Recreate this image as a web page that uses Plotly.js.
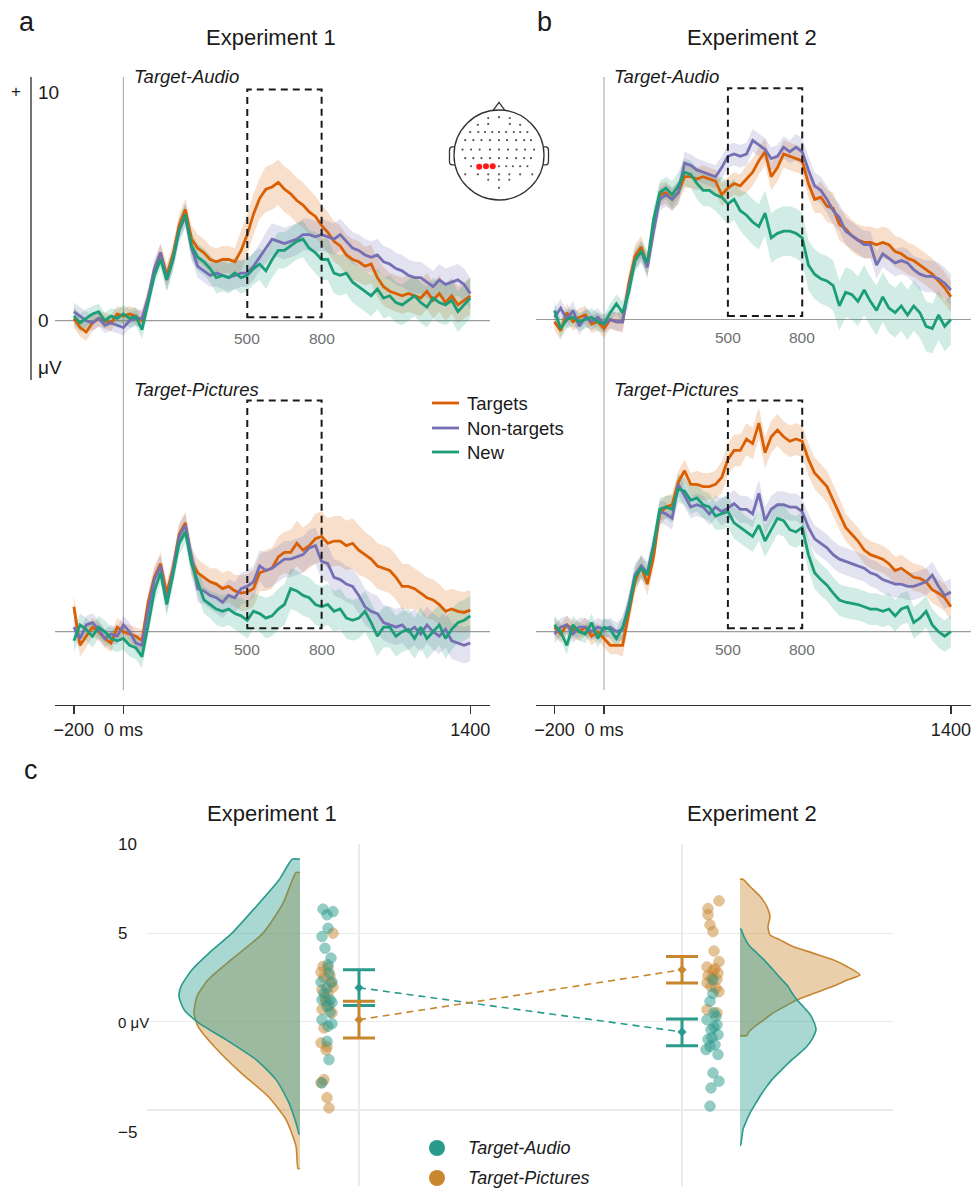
<!DOCTYPE html>
<html><head><meta charset="utf-8">
<script src="https://cdn.plot.ly/plotly-3.0.1.min.js"></script>
<style>html,body{margin:0;padding:0;background:#fff;}#chart{width:975px;height:1189px;}</style>
</head><body><div id="chart"></div>
<script>
// ---------------- DATA ----------------
const TIME = [-200,-175,-150,-125,-100,-75,-50,-25,0,25,50,75,100,125,150,175,200,225,250,275,300,325,350,375,400,425,450,475,500,525,550,575,600,625,650,675,700,725,750,775,800,825,850,875,900,925,950,975,1000,1025,1050,1075,1100,1125,1150,1175,1200,1225,1250,1275,1300,1325,1350,1375,1400];
const CONDITIONS = ['Targets','Non-targets','New'];

// Experiment 1, Target-Audio (µV)
const E1A_TARGETS = [0.1,-0.3,-0.5,-0.1,0.1,0.0,-0.1,0.3,0.2,0.3, 0.2,0.0,1.0,2.2,3.0,2.0,2.9,4.2,4.9,3.6, 3.2,3.0,2.7,2.6,2.7,2.7,2.6,3.1,3.8,4.7, 5.4,5.8,5.9,6.1,5.8,5.6,5.3,5.1,4.8,4.6, 4.2,3.9,3.5,3.3,2.9,2.7,2.6,2.4,2.5,1.9, 1.5,1.3,1.2,1.1,1.2,1.1,1.0,1.3,0.9,1.2, 0.8,1.1,0.7,0.9,1.1];
const E1A_NONTARGETS = [0.4,0.2,0.0,-0.1,0.1,-0.2,-0.1,-0.2,-0.3,0.0, 0.1,0.1,1.0,2.3,3.0,1.8,2.7,4.0,4.6,3.2, 2.4,2.2,2.0,2.1,2.0,1.9,2.0,2.1,2.1,2.4, 2.8,3.2,3.6,3.5,3.4,3.5,3.6,3.8,3.8,3.7, 3.8,3.7,3.6,3.8,3.5,3.2,3.1,2.9,2.8,2.9, 2.6,2.5,2.3,2.2,2.0,1.9,1.9,1.7,1.5,1.8, 1.6,1.7,1.8,1.6,1.2];
const E1A_NEW = [0.2,-0.1,0.1,0.3,0.4,0.0,0.2,0.1,0.3,0.1, 0.2,-0.4,0.8,2.0,2.7,1.8,2.7,4.0,4.7,3.3, 2.8,2.6,2.3,1.9,2.0,1.9,2.1,1.9,2.0,2.3, 2.5,2.2,2.7,3.1,3.1,3.3,3.5,3.6,3.2,3.0, 2.7,2.7,2.1,2.0,2.1,1.7,1.5,1.3,1.1,1.4, 1.0,1.1,0.8,0.7,0.9,1.1,0.8,0.6,1.0,0.8, 0.7,0.9,0.4,0.7,1.0];
// Experiment 1, Target-Pictures
const E1P_TARGETS = [1.1,-0.6,-0.2,0.2,0.0,-0.3,-0.5,0.2,0.0,-0.1, -0.2,-0.4,1.3,2.4,3.0,1.7,2.8,4.3,4.8,3.1, 2.6,2.4,2.2,2.1,1.9,2.0,1.8,1.7,1.75,1.9, 2.6,2.7,2.8,3.3,3.5,3.5,3.9,3.6,3.8,4.1, 4.2,3.9,4.0,4.0,3.8,3.9,3.6,3.4,3.2,2.9, 2.8,2.7,2.4,2.0,2.0,1.9,1.7,1.5,1.4,1.2, 0.9,1.0,0.9,0.85,0.95];
const E1P_NONTARGETS = [0.2,-0.3,0.3,0.4,0.1,-0.3,-0.1,-0.2,0.3,0.0, -0.5,-0.6,1.0,2.3,2.9,1.3,2.7,4.2,4.7,3.3, 1.9,1.8,1.6,1.5,1.3,1.6,1.5,1.9,2.0,2.2, 2.9,2.7,2.8,3.0,3.2,3.2,3.3,3.4,3.7,3.8, 3.1,3.0,2.4,2.3,2.1,2.0,1.6,1.1,0.9,0.8, 0.4,0.3,0.2,0.3,0.0,0.2,-0.1,0.3,0.0,-0.2, 0.1,-0.4,-0.5,-0.6,-0.5];
const E1P_NEW = [-0.4,0.3,0.1,-0.2,0.2,0.0,-0.3,-0.4,-0.3,-0.6, -0.7,-1.1,0.3,1.8,2.6,1.2,2.5,3.9,4.4,3.0, 2.2,1.4,1.2,1.0,0.9,1.0,0.8,0.7,0.5,0.9, 0.8,0.6,0.7,1.0,1.2,1.9,1.8,1.6,1.5,1.2, 1.1,1.2,0.9,1.0,0.6,0.5,0.6,0.9,0.4,-0.2, 0.2,0.2,-0.2,0.0,0.1,-0.3,0.2,-0.3,0.0,0.3, -0.3,0.1,0.4,0.5,0.7];
// Experiment 2, Target-Audio
const E2A_TARGETS = [-0.1,-0.5,0.3,-0.1,0.1,0.2,-0.2,-0.1,-0.4,0.0, -0.1,-0.1,1.6,2.8,3.2,2.4,4.0,5.5,5.6,5.3, 5.6,6.3,6.3,6.2,6.3,6.2,6.1,5.5,5.8,6.0, 5.9,6.2,6.5,7.0,7.4,6.3,6.7,7.3,7.2,7.1, 7.0,6.0,5.3,5.4,5.0,4.9,4.2,4.0,3.7,3.5, 3.4,3.4,3.3,3.4,3.3,3.0,2.9,2.7,2.6,2.4, 2.2,2.0,1.7,1.4,1.0];
const E2A_NONTARGETS = [0.1,0.5,0.0,0.4,-0.3,0.1,-0.1,0.1,-0.2,0.0, -0.1,-0.1,1.4,2.6,3.0,2.3,3.9,5.3,5.5,5.3, 5.6,6.9,6.8,6.6,6.5,6.4,6.3,6.7,7.2,7.3, 7.2,7.3,7.9,7.7,7.5,7.1,7.2,7.6,7.4,7.6, 7.4,6.6,5.9,5.7,5.3,4.8,4.5,3.9,3.7,3.5, 3.3,3.3,2.4,2.9,2.7,2.5,2.6,2.5,2.2,2.0, 1.9,1.9,1.8,1.6,1.3];
const E2A_NEW = [0.4,-0.4,0.0,0.1,-0.1,0.0,0.1,-0.1,-0.2,0.3, 0.7,0.3,1.2,2.6,3.0,2.5,4.4,5.6,5.8,5.5, 5.9,6.5,6.4,6.0,5.7,5.7,5.5,5.4,5.1,5.3, 4.8,4.6,4.3,4.1,4.7,3.6,3.8,3.9,3.9,3.8, 3.6,2.4,2.0,1.8,1.7,1.5,0.6,1.2,1.1,0.8, 1.3,0.8,0.4,1.0,0.5,0.3,0.6,0.2,0.6,0.3, -0.3,-0.4,0.2,-0.3,0.0];
// Experiment 2, Target-Pictures
const E2P_TARGETS = [0.2,-0.1,0.3,0.1,0.0,0.2,-0.2,0.0,-0.3,-0.6, -0.6,-0.6,0.8,2.2,2.9,2.1,3.3,5.2,5.5,5.6, 6.6,7.1,6.5,6.5,6.4,6.4,6.5,6.8,7.6,8.0, 8.0,8.5,8.3,9.2,7.9,8.6,8.9,8.6,8.4,8.5, 8.4,7.6,7.0,6.7,6.4,5.8,5.2,4.6,4.3,4.0, 3.6,3.4,3.3,3.2,3.0,2.7,2.8,2.6,2.4,2.35, 2.2,1.85,1.7,1.5,1.1];
const E2P_NONTARGETS = [-0.1,0.2,0.3,-0.1,0.2,0.2,0.0,0.2,0.1,0.2, 0.0,0.1,1.2,2.5,2.9,2.6,3.8,5.3,5.2,5.0, 6.5,6.0,5.5,5.6,5.5,5.2,5.5,5.3,5.45,5.65, 5.4,5.4,5.2,6.1,4.9,5.4,5.6,5.6,5.5,5.5, 5.3,4.6,4.1,3.9,3.7,3.4,3.2,3.1,3.0,2.9, 2.8,2.6,2.5,2.3,2.2,2.1,2.1,2.0,2.0,2.1, 2.2,2.5,2.0,1.6,1.75];
const E2P_NEW = [0.3,0.0,-0.6,0.3,0.0,-0.1,0.4,-0.3,0.2,0.1, -0.3,0.2,1.0,2.4,2.8,2.5,3.8,5.4,5.5,5.4, 6.3,6.2,5.8,5.9,5.6,5.5,5.1,5.2,5.3,4.8, 4.6,4.4,4.2,4.7,4.0,4.5,5.0,4.9,4.5,4.4, 4.6,3.4,2.6,2.3,2.05,1.7,1.4,1.3,1.25,1.2, 1.1,1.0,1.0,0.9,1.0,0.7,1.0,1.1,0.4,0.6, 0.9,0.3,0.0,-0.2,0.0];

// SEM half-widths per 100-ms bin (bins centred at -200,-100,...,1400)
const SEM_BINS = [-200,-100,0,100,200,300,400,500,600,700,800,900,1000,1100,1200,1300,1400];
const E1A_SEM_T = [0.4,0.35,0.35,0.4,0.5,0.6,0.6,0.9,1.0,1.0,0.9,0.9,0.85,0.8,0.8,0.8,0.8];
const E1A_SEM_N = [0.4,0.35,0.35,0.4,0.5,0.5,0.6,0.6,0.7,0.7,0.7,0.7,0.7,0.7,0.7,0.7,0.7];
const E1A_SEM_W = [0.4,0.35,0.4,0.4,0.5,0.6,0.7,0.7,0.8,0.8,0.9,0.9,0.9,0.9,0.9,0.9,0.9];
const E1P_SEM_T = [0.5,0.4,0.4,0.5,0.5,0.6,0.7,0.8,0.9,1.0,1.1,1.1,1.0,1.0,0.9,0.9,0.9];
const E1P_SEM_N = [0.4,0.4,0.4,0.5,0.5,0.6,0.7,0.7,0.8,0.8,0.8,0.8,0.8,0.8,0.8,0.8,0.8];
const E1P_SEM_W = [0.5,0.5,0.5,0.5,0.5,0.6,0.7,0.8,0.9,0.9,0.9,0.9,0.9,0.9,0.9,0.9,0.9];
const E2A_SEM_T = [0.4,0.4,0.4,0.5,0.5,0.5,0.5,0.5,0.6,0.6,0.6,0.7,0.7,0.7,0.7,0.7,0.7];
const E2A_SEM_N = [0.4,0.4,0.4,0.4,0.5,0.5,0.5,0.5,0.5,0.5,0.6,0.6,0.6,0.6,0.6,0.7,0.7];
const E2A_SEM_W = [0.4,0.4,0.4,0.5,0.5,0.6,0.7,0.9,1.0,1.1,1.1,1.1,1.1,1.1,1.1,1.1,1.1];
const E2P_SEM_T = [0.4,0.4,0.4,0.5,0.5,0.5,0.6,0.7,0.7,0.7,0.7,0.7,0.6,0.6,0.6,0.6,0.6];
const E2P_SEM_N = [0.4,0.4,0.4,0.5,0.5,0.5,0.5,0.6,0.6,0.6,0.6,0.6,0.6,0.6,0.6,0.6,0.6];
const E2P_SEM_W = [0.4,0.4,0.4,0.5,0.5,0.6,0.6,0.7,0.7,0.7,0.7,0.7,0.7,0.7,0.7,0.7,0.7];

const WINDOW_MS = [500, 800];
const X_TICKS = [-200, 0, 1400];
const X_TICK_TEXT = ['\u2212200', '0 ms', '1400'];

// Panel c: mean amplitude 500-800 ms per participant (µV)
const EXPERIMENTS = ['Experiment 1', 'Experiment 2'];
const MODALITIES = ['Target-Audio', 'Target-Pictures'];
const EXP_POS = [1, 2];
const E1_AUDIO_PTS = [6.37,6.23,6.05,5.29,4.82,4.16,3.60,3.22,2.75,2.24,2.24,1.90,1.62,1.24,1.24,1.09,0.87,0.53,0.11,-0.11,-0.26,-1.11,-2.15,-3.46];
const E1_AUDIO_JIT = [-4,6,0,1,-5,-2,4,1,2,5,-6,0,-3,3,-5,5,0,3,-5,5,1,0,2,-5];
const E1_PICT_PTS = [5.01,3.13,3.05,2.80,2.60,2.50,2.20,1.96,1.80,1.60,1.35,1.15,0.90,0.70,0.50,-0.36,-1.20,-1.40,-1.60,-3.28,-3.46,-4.30,-4.88];
const E1_PICT_JIT = [6,-4,1,-6,3,-3,4,6,-5,1,-2,-1,2,-5,5,-3,-6,0,-1,-3,-6,0,2];
const E2_AUDIO_PTS = [2.37,1.60,1.15,0.50,0.30,0.11,-0.17,-0.30,-0.45,-0.73,-0.90,-1.00,-1.30,-1.40,-1.58,-1.86,-2.90,-3.37,-3.75,-4.78];
const E2_AUDIO_JIT = [1,1,-2,2,4,-5,5,2,-1,6,0,-4,3,-2,-6,6,1,7,-1,-2];
const E2_PICT_PTS = [6.84,6.40,6.05,5.48,5.10,4.00,3.40,3.10,3.00,2.90,2.75,2.60,2.50,2.40,2.20,2.00,1.90,1.70,0.68,0.50];
const E2_PICT_JIT = [7,-4,-4,-2,1,2,7,-5,3,1,6,-4,0,5,-5,-1,4,7,-5,5];
const MEAN_AUDIO = [1.92, -0.58], CI_AUDIO_HI = [2.94, 0.15], CI_AUDIO_LO = [0.92, -1.36];
const MEAN_PICT = [0.11, 2.94], CI_PICT_HI = [1.15, 3.69], CI_PICT_LO = [-0.92, 2.19];

// Density curves (half-violins): levels (µV) and density (arbitrary units)
const E1_AUDIO_DENS_Y = [9.19,8.02,6.51,5.01,3.88,2.94,2.00,1.43,0.68,-0.08,-1.02,-2.15,-3.28,-4.60,-5.92,-6.35];
const E1_AUDIO_DENS = [7.7,21,44,68,91,108,119,121,116,101,74,44,24,11,3,1];
const E1_PICT_DENS_Y = [8.44,6.70,5.01,3.50,2.37,1.43,0.49,-0.26,-1.39,-2.90,-4.22,-5.54,-7.05,-8.31];
const E1_PICT_DENS = [4,17,37,69,92,103,106,102,86,59,32,14,4,2];
const E2_PICT_DENS_Y = [8.06,7.65,7.10,6.50,5.95,5.38,4.90,4.63,4.25,3.88,3.50,3.12,2.65,2.37,2.00,1.62,1.24,0.87,0.49,0.11,-0.26,-0.64,-0.79];
const E2_PICT_DENS = [3,10,20,27,30,28,30,40,53,73,93,107,120,108,93,75,57,45,33,24,15,8,7];
const E2_AUDIO_DENS_Y = [5.24,4.82,4.25,3.88,3.50,2.94,2.37,2.00,1.62,1.24,0.87,0.49,0.11,-0.45,-1.00,-1.39,-1.77,-2.15,-2.70,-3.28,-3.65,-4.22,-4.60,-5.17,-5.54,-6.10,-6.48,-7.00];
const E2_AUDIO_DENS = [1,4,10,17,24,33,42,48,52,57,63,69,73,76,72,67,60,52,42,32,27,20,16,10,7,3,2,0.5];

// Electrode montage (head units, radius 1)
const ELEC_U = [-0.24,0,0.24, -0.47,-0.24,0.24,0.47, -0.64,-0.46,-0.31,-0.15,0,0.16,0.33,0.47,0.63, -0.75,-0.57,-0.39,-0.2,0,0.18,0.38,0.56,0.71, -0.81,-0.62,-0.43,-0.2,0,0.2,0.39,0.58,0.78, -0.75,-0.57,-0.39,-0.2,0,0.18,0.38,0.56,0.71, -0.62,0,0.16,0.31,0.47,0.63, -0.75,-0.47,-0.24,0,0.23,0.47,0.74, -0.24,0,0.23, 0];
const ELEC_V = [0.82,0.84,0.82, 0.67,0.69,0.69,0.67, 0.51,0.51,0.51,0.51,0.51,0.51,0.51,0.51,0.51, 0.33,0.33,0.33,0.33,0.33,0.33,0.33,0.33,0.33, 0.12,0.12,0.12,0.12,0.12,0.12,0.12,0.12,0.12, -0.07,-0.07,-0.07,-0.07,-0.07,-0.07,-0.07,-0.07,-0.07, -0.25,-0.25,-0.25,-0.25,-0.25,-0.25, -0.43,-0.43,-0.43,-0.43,-0.43,-0.43,-0.43, -0.55,-0.55,-0.55, -0.73];
const ROI_U = [-0.44,-0.29,-0.14];
const ROI_V = [-0.26,-0.25,-0.25];

// ---------------- STYLE / LAYOUT ----------------
const W = 975, H = 1189;
const PX = v => v / W, PY = v => 1 - v / H;
const FONT = 'Liberation Sans, Arial, Helvetica, sans-serif';
const LINE_COL = ['#d95f02', '#7570b3', '#1b9e77'];
const BAND_COL = ['rgba(217,95,2,0.2)', 'rgba(117,112,179,0.2)', 'rgba(27,158,119,0.2)'];
const TEAL = '#299a8c', ORANGE = '#c8862f';
const TEAL_FILL = 'rgba(41,154,140,0.40)', ORANGE_FILL = 'rgba(200,134,47,0.40)';
const VSCALE = 1 / 323;      // density units -> x units
const JSCALE = 1 / 323;      // jitter px -> x units

const panels = [
  {xa:'x',  ya:'y',  series:[E1A_TARGETS,E1A_NONTARGETS,E1A_NEW], sem:[E1A_SEM_T,E1A_SEM_N,E1A_SEM_W]},
  {xa:'x2', ya:'y2', series:[E2A_TARGETS,E2A_NONTARGETS,E2A_NEW], sem:[E2A_SEM_T,E2A_SEM_N,E2A_SEM_W]},
  {xa:'x3', ya:'y3', series:[E1P_TARGETS,E1P_NONTARGETS,E1P_NEW], sem:[E1P_SEM_T,E1P_SEM_N,E1P_SEM_W]},
  {xa:'x4', ya:'y4', series:[E2P_TARGETS,E2P_NONTARGETS,E2P_NEW], sem:[E2P_SEM_T,E2P_SEM_N,E2P_SEM_W]}
];
const semAt = (sem, t) => sem[SEM_BINS.indexOf(SEM_BINS.reduce((a,b)=>Math.abs(b-t)<Math.abs(a-t)?b:a))];

const traces = [];
panels.forEach(p => {
  p.series.forEach((s, k) => {
    const up = s.map((v,i)=> v + semAt(p.sem[k], TIME[i]));
    const lo = s.map((v,i)=> v - semAt(p.sem[k], TIME[i]));
    traces.push({x: TIME.concat(TIME.slice().reverse()), y: up.concat(lo.reverse()), xaxis:p.xa, yaxis:p.ya,
      type:'scatter', mode:'lines', fill:'toself', fillcolor:BAND_COL[k], line:{width:0}, hoverinfo:'skip'});
  });
  p.series.forEach((s, k) => {
    traces.push({x: TIME, y: s, xaxis:p.xa, yaxis:p.ya, type:'scatter', mode:'lines', name: CONDITIONS[k],
      line:{color:LINE_COL[k], width:2.8}});
  });
});

// Head inset
traces.push({x:ELEC_U, y:ELEC_V, xaxis:'x6', yaxis:'y6', type:'scatter', mode:'markers', marker:{size:2.2, color:'#555'}, hoverinfo:'skip'});
traces.push({x:ROI_U, y:ROI_V, xaxis:'x6', yaxis:'y6', type:'scatter', mode:'markers', marker:{size:6, color:'#ff1a1a'}, hoverinfo:'skip'});

// Panel c half violins
function halfViolin(edge, ys, dens, dir, fill, col) {
  const xs = [edge].concat(dens.map(d => edge + dir * d * VSCALE), [edge]);
  const yy = [ys[0]].concat(ys, [ys[ys.length-1]]);
  return {x: xs, y: yy, xaxis:'x5', yaxis:'y5', type:'scatter', mode:'lines', fill:'toself', fillcolor:fill,
    line:{color:col, width:1.6, shape:'spline', smoothing:0.6}, hoverinfo:'skip'};
}
const E1_EDGE = 1 + (300 - 359) / 323, E2_EDGE = 2 + (740 - 682) / 323;
traces.push(halfViolin(E1_EDGE, E1_PICT_DENS_Y, E1_PICT_DENS, -1, ORANGE_FILL, ORANGE));
traces.push(halfViolin(E1_EDGE, E1_AUDIO_DENS_Y, E1_AUDIO_DENS, -1, TEAL_FILL, TEAL));
traces.push(halfViolin(E2_EDGE, E2_PICT_DENS_Y, E2_PICT_DENS, 1, ORANGE_FILL, ORANGE));
traces.push(halfViolin(E2_EDGE, E2_AUDIO_DENS_Y, E2_AUDIO_DENS, 1, TEAL_FILL, TEAL));

// jittered points
const E1_PT_X = 1 + (327 - 359) / 323, E2_PT_X = 2 + (712 - 682) / 323;
function pts(cx, vals, jit, col) {
  return {x: vals.map((v,i)=> cx + jit[i]*JSCALE), y: vals, xaxis:'x5', yaxis:'y5', type:'scatter', mode:'markers',
    marker:{size:10.5, color:col, opacity:0.5, line:{width:1, color:col}}, hoverinfo:'skip'};
}
traces.push(pts(E1_PT_X, E1_PICT_PTS, E1_PICT_JIT, ORANGE));
traces.push(pts(E1_PT_X, E1_AUDIO_PTS, E1_AUDIO_JIT, TEAL));
traces.push(pts(E2_PT_X, E2_PICT_PTS, E2_PICT_JIT, ORANGE));
traces.push(pts(E2_PT_X, E2_AUDIO_PTS, E2_AUDIO_JIT, TEAL));

// dashed lines connecting means
traces.push({x:EXP_POS, y:MEAN_AUDIO, xaxis:'x5', yaxis:'y5', type:'scatter', mode:'lines', line:{color:TEAL, width:1.6, dash:'7px,5px'}, hoverinfo:'skip'});
traces.push({x:EXP_POS, y:MEAN_PICT, xaxis:'x5', yaxis:'y5', type:'scatter', mode:'lines', line:{color:ORANGE, width:1.6, dash:'7px,5px'}, hoverinfo:'skip'});
// error bars
function ebar(mean, hi, lo, col) {
  return {x:EXP_POS, y:mean, xaxis:'x5', yaxis:'y5', type:'scatter', mode:'markers',
    marker:{symbol:'diamond', size:7, color:col},
    error_y:{type:'data', symmetric:false, array:hi.map((h,i)=>h-mean[i]), arrayminus:mean.map((m,i)=>m-lo[i]), color:col, thickness:3, width:16},
    hoverinfo:'skip'};
}
traces.push(ebar(MEAN_AUDIO, CI_AUDIO_HI, CI_AUDIO_LO, TEAL));
traces.push(ebar(MEAN_PICT, CI_PICT_HI, CI_PICT_LO, ORANGE));

// axes
const SLOPE = 0.24777; // px per ms
const xr = (x0px, zeroPx, x1px) => [(x0px - zeroPx)/SLOPE, (x1px - zeroPx)/SLOPE];
const UVPX = 22.667;
const yr = (topPx, zeroPx, botPx) => [(zeroPx - botPx)/UVPX, (zeroPx - topPx)/UVPX];
const hidden = {visible:false, fixedrange:true};
const bottomAxis = (rng, dom) => ({domain:dom, range:rng, anchor:'free', position:PY(705), showline:true, linecolor:'#333', linewidth:1.4,
  ticks:'outside', ticklen:8, tickwidth:1.4, tickcolor:'#333', tickvals:X_TICKS, ticktext:X_TICK_TEXT, tickfont:{size:18, color:'#222', family:FONT},
  showgrid:false, zeroline:false});

const domA = [PX(55), PX(490)], domB = [PX(536), PX(971)];
const layout = {
  width:W, height:H, margin:{l:0,r:0,t:0,b:0, autoexpand:false}, paper_bgcolor:'#fff', plot_bgcolor:'rgba(0,0,0,0)',
  font:{family:FONT, color:'#222'}, showlegend:false,
  xaxis: Object.assign({domain:domA, range:xr(55,123.4,490), anchor:'y'}, hidden),
  yaxis: Object.assign({domain:[PY(380),PY(77)], range:yr(77,320.7,380), anchor:'x'}, hidden),
  xaxis2: Object.assign({domain:domB, range:xr(536,604,971), anchor:'y2'}, hidden),
  yaxis2: Object.assign({domain:[PY(380),PY(77)], range:yr(77,319.5,380), anchor:'x2'}, hidden),
  xaxis3: bottomAxis(xr(55,123.4,490), domA),
  yaxis3: Object.assign({domain:[PY(690),PY(388)], range:yr(388,631.7,690), anchor:'x3'}, hidden),
  xaxis4: bottomAxis(xr(536,604,971), domB),
  yaxis4: Object.assign({domain:[PY(690),PY(388)], range:yr(388,631.7,690), anchor:'x4'}, hidden),
  xaxis5: {domain:[PX(147),PX(893)], range:[1+(147-359)/323, 1+(893-359)/323], anchor:'y5', tickvals:EXP_POS, showticklabels:false, ticks:'',
    showgrid:true, gridcolor:'#ebebeb', gridwidth:1.5, zeroline:false, showline:false, fixedrange:true},
  yaxis5: {domain:[PY(1186),PY(844)], range:[(1021.67-1186)/17.667, (1021.67-844)/17.667], anchor:'x5', tickvals:[10,5,0,-5], showticklabels:false, ticks:'',
    showgrid:true, gridcolor:'#ebebeb', gridwidth:1.5, zeroline:false, showline:false, fixedrange:true},
  xaxis6: Object.assign({domain:[PX(444),PX(554)], range:[-1.222,1.222], anchor:'y6'}, hidden),
  yaxis6: Object.assign({domain:[PY(210),PY(100)], range:[-1.222,1.222], anchor:'x6'}, hidden),
  shapes:[], annotations:[]
};

const S = layout.shapes, A = layout.annotations;
// zero lines, window boxes
panels.forEach(p => {
  S.push({type:'line', xref:p.xa+' domain', yref:p.ya, x0:0, x1:1, y0:0, y1:0, line:{color:'#9c9c9c', width:1.2}, layer:'below'});
  S.push({type:'rect', xref:p.xa, yref:p.ya, x0:WINDOW_MS[0], x1:WINDOW_MS[1], y0:0.15, y1:10.2, line:{color:'#1a1a1a', width:2, dash:'7px,5px'}});
  WINDOW_MS.forEach(ms => A.push({xref:p.xa, yref:p.ya, x:ms, y:-0.78, xanchor:'center', yanchor:'middle', text:String(ms), showarrow:false, font:{size:15.5, color:'#707070'}}));
});
// stimulus onset vertical lines
S.push({type:'line', xref:'x', yref:'paper', x0:0, x1:0, y0:PY(690), y1:PY(77), line:{color:'#aaaaaa', width:1.1}, layer:'below'});
S.push({type:'line', xref:'x2', yref:'paper', x0:0, x1:0, y0:PY(690), y1:PY(77), line:{color:'#aaaaaa', width:1.1}, layer:'below'});
// scale bar
S.push({type:'line', xref:'paper', yref:'paper', x0:PX(31), x1:PX(31), y0:PY(380), y1:PY(77), line:{color:'#444', width:1.5}});

// head shapes
S.push({type:'circle', xref:'x6', yref:'y6', x0:-1, x1:1, y0:-1, y1:1, line:{color:'#333', width:1.3}});
S.push({type:'path', xref:'x6', yref:'y6', path:'M -0.13 0.99 L 0 1.17 L 0.13 0.99', line:{color:'#333', width:1.3}});
S.push({type:'path', xref:'x6', yref:'y6', path:'M -0.995 0.18 L -1.05 0.18 Q -1.1 0.17 -1.1 0.1 L -1.1 -0.14 Q -1.1 -0.22 -1.04 -0.22 L -0.975 -0.22', line:{color:'#333', width:1.3}});
S.push({type:'path', xref:'x6', yref:'y6', path:'M 0.995 0.18 L 1.05 0.18 Q 1.1 0.17 1.1 0.1 L 1.1 -0.14 Q 1.1 -0.22 1.04 -0.22 L 0.975 -0.22', line:{color:'#333', width:1.3}});

// text helper (paper pixel coordinates)
const T = (x, y, text, size, opts) => A.push(Object.assign({xref:'paper', yref:'paper', x:PX(x), y:PY(y), text:text, showarrow:false,
  xanchor:'center', yanchor:'middle', borderpad:0, font:{size:size, color:'#1a1a1a', family:FONT}}, opts||{}));
T(16, 92, '+', 17);
T(37, 93, '10', 19, {xanchor:'left'});
T(37, 320, '0', 19, {xanchor:'left'});
T(37, 367, '\u03bcV', 19, {xanchor:'left'});
T(27, 22, 'a', 27); T(544, 22, 'b', 27); T(31, 770, 'c', 27);
T(271, 37, EXPERIMENTS[0], 22); T(752, 37, EXPERIMENTS[1], 22);
T(272, 813, EXPERIMENTS[0], 22); T(752, 813, EXPERIMENTS[1], 22);
T(133, 76, '<i>' + MODALITIES[0] + '</i>', 18.5, {xanchor:'left'});
T(613, 76, '<i>' + MODALITIES[0] + '</i>', 18.5, {xanchor:'left'});
T(133, 389, '<i>' + MODALITIES[1] + '</i>', 18.5, {xanchor:'left'});
T(613, 389, '<i>' + MODALITIES[1] + '</i>', 18.5, {xanchor:'left'});
// panel c y labels
T(117, 844, '10', 17, {xanchor:'left'});
T(117, 933, '5', 17, {xanchor:'left'});
T(117, 1022, '0 \u03bcV', 15, {xanchor:'left'});
T(117, 1132, '\u22125', 17, {xanchor:'left'});

// ERP legend (a)
[403, 428, 452].forEach((yy, k) => {
  S.push({type:'line', xref:'paper', yref:'paper', x0:PX(432), x1:PX(459), y0:PY(yy), y1:PY(yy), line:{color:LINE_COL[k], width:2.8}});
  T(466, yy, CONDITIONS[k], 18.5, {xanchor:'left'});
});
// panel c legend
[[1148, TEAL], [1178, ORANGE]].forEach(([yy, col], k) => {
  S.push({type:'circle', xref:'paper', yref:'paper', xsizemode:'pixel', ysizemode:'pixel', xanchor:PX(437), yanchor:PY(yy),
    x0:-8, x1:8, y0:-8, y1:8, fillcolor:col, line:{width:0}});
  T(467, yy, '<i>' + MODALITIES[k] + '</i>', 18, {xanchor:'left'});
});

Plotly.newPlot('chart', traces, layout, {displayModeBar:false, staticPlot:true});
</script></body></html>
